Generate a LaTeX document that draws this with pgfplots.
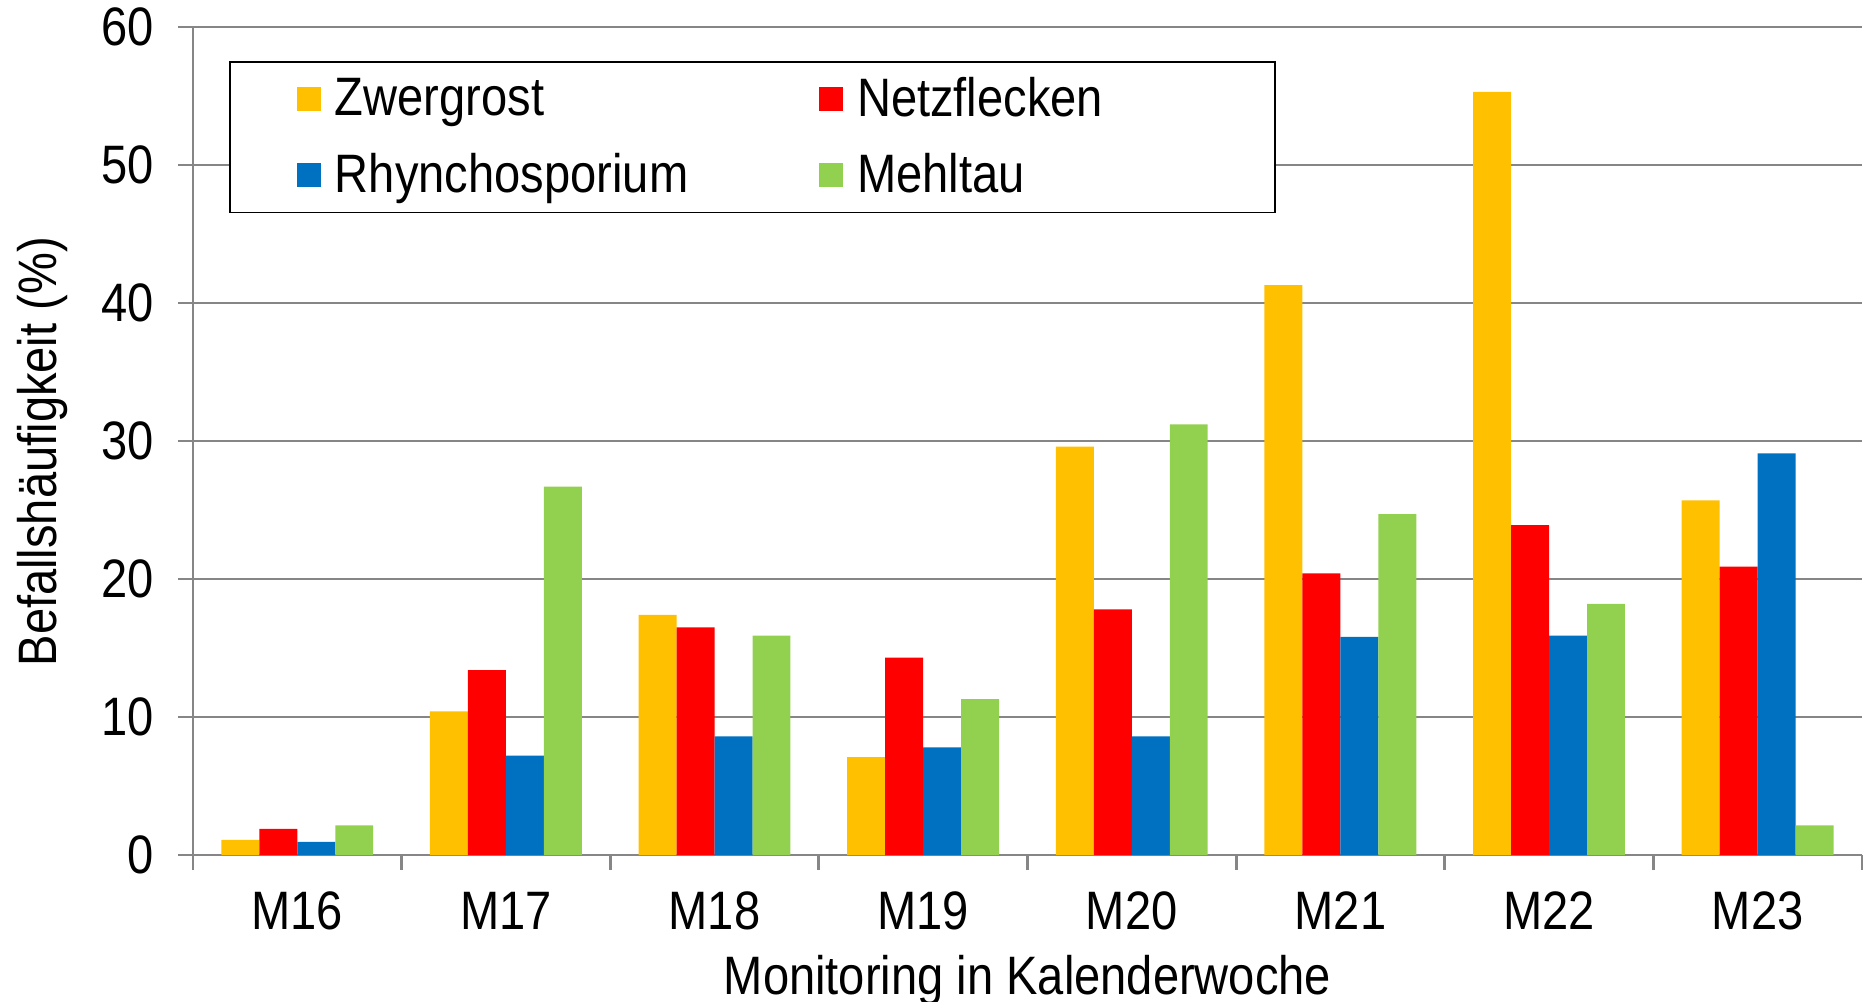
\documentclass[border=0pt]{standalone}
\usepackage{pgfplots}
\pgfplotsset{compat=1.18}
\usepackage{fontspec}
\setmainfont[FakeStretch=0.87]{Liberation Sans}
\definecolor{czw}{HTML}{FFC000}
\definecolor{cnf}{HTML}{FF0000}
\definecolor{crh}{HTML}{0070C0}
\definecolor{cmt}{HTML}{92D050}
\definecolor{axgray}{HTML}{868686}
\begin{document}
\begin{tikzpicture}[font=\fontsize{15.4}{18}\selectfont]
\begin{axis}[
  scale only axis, width=166.9mm, height=82.8mm,
  ybar=0pt, bar width=0.182,
  xmin=-0.5, xmax=7.5, ymin=0, ymax=60,
  ytick={0,10,...,60},
  xtick={-0.5,0.5,...,7.5}, xticklabels={},
  extra x ticks={0,1,...,7},
  extra x tick labels={M16,M17,M18,M19,M20,M21,M22,M23},
  extra x tick style={major tick length=0pt, grid=none},
  axis x line*=bottom, axis y line*=left,
  axis line style={draw=axgray, line width=0.8pt, -},
  tick style={draw=axgray, line width=0.8pt},
  tick align=outside, major tick length=1.5mm,
  ymajorgrids, grid style={draw=axgray, line width=0.8pt},
  /pgf/number format/assume math mode=true,
  xticklabel style={anchor=base, yshift=-7.4mm},
  yticklabel style={anchor=east, xshift=-1.2mm},
  xlabel={Monitoring in Kalenderwoche},
  ylabel={Befallshäufigkeit (\%)},
  xlabel style={at={(axis description cs:0.5,-0.152)}, anchor=center},
  ylabel style={at={(axis description cs:-0.090,0.487)}, anchor=center, rotate=0},
  legend columns=2,
  legend cell align=left,
  legend style={at={(rel axis cs:0.0216,0.959)}, anchor=north west, draw=black, line width=0.5pt,
    inner xsep=6.7mm, inner ysep=0.8mm, row sep=5pt, column sep=0pt},
  legend image code/.code={\fill[#1] (0mm,-1.2mm) rectangle (2.4mm,1.2mm); \path (3.1mm,0mm);},
]
\addplot[fill=czw, draw=none] coordinates {(0,1.1) (1,10.4) (2,17.4) (3,7.1) (4,29.6) (5,41.3) (6,55.3) (7,25.7)};
\addplot[fill=cnf, draw=none] coordinates {(0,1.9) (1,13.4) (2,16.5) (3,14.3) (4,17.8) (5,20.4) (6,23.9) (7,20.9)};
\addplot[fill=crh, draw=none] coordinates {(0,0.95) (1,7.2) (2,8.6) (3,7.8) (4,8.6) (5,15.8) (6,15.9) (7,29.1)};
\addplot[fill=cmt, draw=none] coordinates {(0,2.15) (1,26.7) (2,15.9) (3,11.3) (4,31.2) (5,24.7) (6,18.2) (7,2.15)};
\legend{\makebox[47.7mm][l]{Zwergrost},\makebox[34.4mm][l]{Netzflecken},\makebox[47.7mm][l]{Rhynchosporium},\makebox[34.4mm][l]{Mehltau}}
\end{axis}
\pgfresetboundingbox
\path[use as bounding box] (-19.3mm,-14.6mm) rectangle (167.1mm,85.5mm);
\end{tikzpicture}
\end{document}
